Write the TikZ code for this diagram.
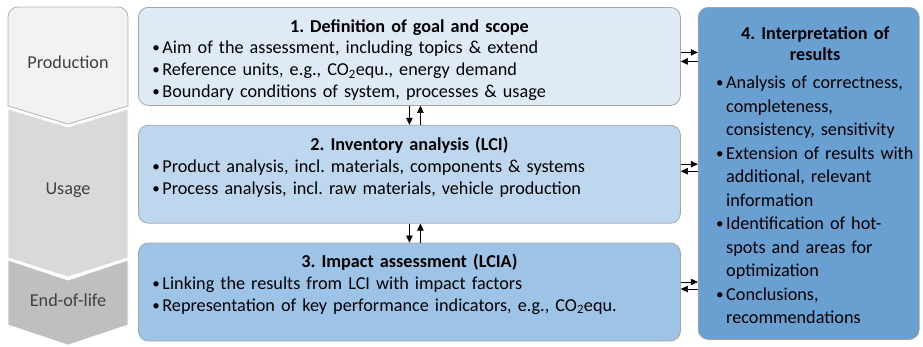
\documentclass[tikz,border=0pt]{standalone}
\usepackage{fontspec}
\setmainfont{Carlito}
\usepackage{xcolor}
\usetikzlibrary{positioning, arrows.meta}
\frenchspacing

\definecolor{prodgray}{HTML}{F2F2F2}
\definecolor{usegray}{HTML}{D9D9D9}
\definecolor{eolgray}{HTML}{BFBFBF}
\definecolor{goalblue}{HTML}{DEEBF7}
\definecolor{lciblue}{HTML}{BDD7EE}
\definecolor{lciablue}{HTML}{9DC3E6}
\definecolor{interpblue}{HTML}{6A9FD2}

% bullet line, continuation line and centred title line
\newcommand{\bulletmark}{\raisebox{1pt}{\fontsize{15}{15}\selectfont\textbullet}}
\newcommand{\itm}[1]{\par\noindent\makebox[11pt][l]{\hspace{1pt}\bulletmark}#1}
\newcommand{\cnt}[1]{\par\noindent\hspace*{11pt}#1}
\newcommand{\boxhead}[1]{\par\noindent\makebox[\linewidth]{\bfseries #1}}

\begin{document}
\begin{tikzpicture}[
    x=1pt, y=-1pt,
    stage/.style={line width=0.8pt, draw=white},
    stagelabel/.style={text=black!75, font=\fontsize{18.2}{21}\selectfont},
    box/.style={draw=black!35, line width=0.8pt, rounded corners=10pt, anchor=north west,
                minimum width=542pt, minimum height=98pt, inner sep=0pt},
    boxtext/.style={align=left, inner sep=0pt, text width=516pt,
                    font=\fontsize{18.2}{21.8}\selectfont},
    arr/.style={-{Triangle[length=7pt,width=6.5pt]}, line width=0.5pt}
]
   \useasboundingbox (0,0) rectangle (923,346);

   % Life cycle phases
   \draw[stage, draw=black!30, fill=prodgray] (8,106) -- (8,17)
      arc[start angle=180, end angle=270, radius=10] -- (118,7)
      arc[start angle=270, end angle=360, radius=10] -- (128,106) -- (68,124) -- cycle;
   \draw[stage, fill=usegray] (8,109) -- (68,127) -- (128,109) -- (128,258) -- (68,277) -- (8,258) -- cycle;
   \draw[stage, fill=eolgray] (8,260) -- (68,280) -- (128,260) -- (128,325) -- (68,345) -- (8,325) -- cycle;
   \node[stagelabel] (prod) at (68,62) {Production};
   \node[stagelabel] (use) at (68,190) {Usage};
   \node[stagelabel] (eol) at (68,300) {End-of-life};

   % Boxes
   \node[box, fill=goalblue] (goal) at (138,7) {};
   \node[box, fill=lciblue, below=19pt of goal] (lci) {};
   \node[box, fill=lciablue, below=19pt of lci] (lcia) {};
   \node[box, fill=interpblue, minimum width=221pt, minimum height=332pt,
         right=17pt of goal.north east, anchor=north west] (interp) {};

   % Texts
   \node[boxtext, below=3pt of goal.north] (goaltext) {%
      \boxhead{1. Definition of goal and scope}
      \itm{Aim of the assessment, including topics \& extend}
      \itm{Reference units, e.g., CO\textsubscript{2}equ., energy demand}
      \itm{Boundary conditions of system, processes \& usage}};
   \node[boxtext, below=4pt of lci.north] (lcitext) {%
      \boxhead{2. Inventory analysis (LCI)}
      \itm{Product analysis, incl. materials, components \& systems}
      \itm{Process analysis, incl. raw materials, vehicle production}};
   \node[boxtext, below=3pt of lcia.north] (lciatext) {%
      \boxhead{3. Impact assessment (LCIA)}
      \itm{Linking the results from LCI with impact factors}
      \itm{Representation of key performance indicators, e.g., CO\textsubscript{2}equ.}};
   \node[boxtext, text width=200pt, font=\fontsize{18.2}{23.5}\selectfont,
         below=19pt of interp.north, xshift=6.5pt] (interptext) {%
      {\centering\bfseries\baselineskip=21pt 4. Interpretation of\\ results\par}
      \vspace{5pt}
      \itm{Analysis of correctness,}
      \cnt{completeness,}
      \cnt{consistency, sensitivity}
      \itm{Extension of results with}
      \cnt{additional, relevant}
      \cnt{information}
      \itm{Identification of hot-}
      \cnt{spots and areas for}
      \cnt{optimization}
      \itm{Conclusions,}
      \cnt{recommendations}};

   % Arrows
   \draw[arr] (goal.south) -- (lci.north);
   \draw[arr] ([xshift=11pt]lci.north) -- ([xshift=11pt]goal.south);
   \draw[arr] (lci.south) -- (lcia.north);
   \draw[arr] ([xshift=11pt]lcia.north) -- ([xshift=11pt]lci.south);
   \draw[arr] ([yshift=4pt]goal.east) -- ([yshift=4pt]goal.east -| interp.west);
   \draw[arr] ([yshift=-5pt]goal.east -| interp.west) -- ([yshift=-5pt]goal.east);
   \draw[arr] ([yshift=10pt]lci.east) -- ([yshift=10pt]lci.east -| interp.west);
   \draw[arr] ([yshift=3pt]lci.east -| interp.west) -- ([yshift=3pt]lci.east);
   \draw[arr] ([yshift=10pt]lcia.east) -- ([yshift=10pt]lcia.east -| interp.west);
   \draw[arr] ([yshift=3pt]lcia.east -| interp.west) -- ([yshift=3pt]lcia.east);
\end{tikzpicture}
\end{document}
